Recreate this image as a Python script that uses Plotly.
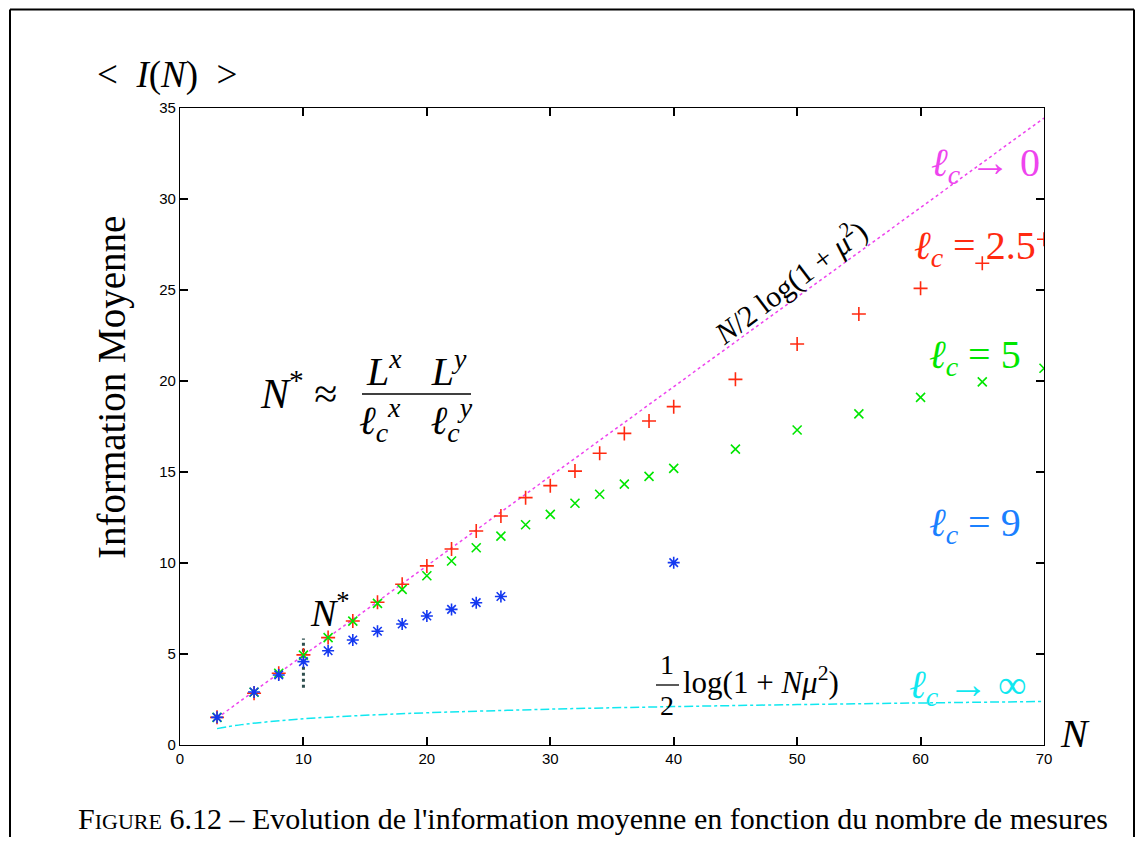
import plotly.graph_objects as go

# ---------------- data ----------------
N_blue = [3, 6, 8, 10, 12, 14, 16, 18, 20, 22, 24, 26, 40]
I_blue = [1.52, 2.91, 3.85, 4.58, 5.18, 5.77, 6.25, 6.65, 7.09, 7.45, 7.82, 8.16, 10.02]

N_green = [3, 6, 8, 10, 12, 14, 16, 18, 20, 22, 24, 26, 28, 30, 32, 34, 36, 38, 40,
           45, 50, 55, 60, 65, 70]
I_green = [1.52, 2.90, 3.94, 4.94, 5.90, 6.81, 7.78, 8.55, 9.30, 10.11, 10.84, 11.48,
           12.10, 12.67, 13.28, 13.78, 14.33, 14.76, 15.20, 16.26, 17.31, 18.19, 19.10,
           19.95, 20.70]

N_red = [3, 6, 8, 10, 12, 14, 16, 18, 20, 22, 24, 26, 28, 30, 32, 34, 36, 38, 40,
         45, 50, 55, 60, 65, 70]
I_red = [1.52, 2.84, 3.94, 4.95, 5.90, 6.81, 7.84, 8.83, 9.84, 10.77, 11.76, 12.58,
         13.59, 14.25, 15.05, 16.03, 17.12, 17.80, 18.59, 20.09, 22.03, 23.68, 25.09,
         26.47, 27.79]

N_upper = [3, 70]
I_upper = [1.48, 34.45]

N_lower = [3, 5, 10, 15, 20, 30, 40, 50, 60, 70]
I_lower = [0.90, 1.12, 1.44, 1.63, 1.77, 1.97, 2.11, 2.22, 2.31, 2.39]

N_star = [10, 10]
I_star = [3.15, 5.85]

x_ticks = [0, 10, 20, 30, 40, 50, 60, 70]
y_ticks = [0, 5, 10, 15, 20, 25, 30, 35]

# ---------------- style ----------------
OFF = 8                              # page body margin shifts the figure by 8 px
W, H = 1143 - 2 * OFF, 845 - 2 * OFF  # figure size (no scrollbars)
L, R, T, B = 180, 1044, 108, 745      # plot area in screen pixels
RED, GREEN, BLUE = "#ff2a10", "#00e600", "#1438f0"
MAG, CYAN, BLUE_TXT = "#ee44ee", "#10e8f0", "#1a80ff"
SERIF = "Liberation Serif, DejaVu Serif, serif"


def px(x, y):
    return (x - L) / (R - L), (B - y) / (B - T)


fig = go.Figure()

fig.add_trace(go.Scatter(x=N_upper, y=I_upper, mode="lines",
                         line=dict(color=MAG, width=1.5, dash="dot"), showlegend=False))
fig.add_trace(go.Scatter(x=N_lower, y=I_lower, mode="lines", line_shape="spline",
                         line=dict(color=CYAN, width=1.5, dash="dashdot"), showlegend=False))
fig.add_trace(go.Scatter(x=N_star, y=I_star, mode="lines",
                         line=dict(color="#2f4f4f", width=3, dash="dot"), showlegend=False))
fig.add_trace(go.Scatter(x=N_red, y=I_red, mode="markers",
                         marker=dict(symbol="cross-thin", size=10, line=dict(color=RED, width=1.6)),
                         showlegend=False))
fig.add_trace(go.Scatter(x=N_green, y=I_green, mode="markers",
                         marker=dict(symbol="x-thin", size=9, line=dict(color=GREEN, width=1.6)),
                         showlegend=False))
fig.add_trace(go.Scatter(x=N_blue, y=I_blue, mode="markers",
                         marker=dict(symbol="asterisk", size=10, line=dict(color=BLUE, width=1.6)),
                         showlegend=False))

ann = []


def add(text, x, y, size, color="black", xanchor="center", angle=0, font=SERIF):
    xp, yp = px(x, y)
    ann.append(dict(text=text, x=xp, y=yp, xref="paper", yref="paper", showarrow=False,
                    xanchor=xanchor, yanchor="middle", textangle=angle,
                    font=dict(family=font, size=size, color=color)))


add("&lt;  <i>I</i>(<i>N</i>)  &gt;", 167, 75, 37)
add("Information Moyenne", 112, 388, 39, angle=-90)
add("<i>N</i><sup>*</sup> ≈", 298, 390, 42)
add("<i>L</i><sup><i>x</i></sup>   <i>L</i><sup><i>y</i></sup>", 416, 368, 40)
add("<i>ℓ</i><sub><i>c</i></sub><sup><i>x</i></sup>   <i>ℓ</i><sub><i>c</i></sub><sup><i>y</i></sup>",
    416, 420, 40)
add("<i>N</i>/2 log(1 + <i>μ</i><sup>2</sup>)", 789, 281, 30, angle=-37)
add("<i>ℓ</i><sub><i>c</i></sub> → 0", 985, 165, 40, MAG)
add("<i>ℓ</i><sub><i>c</i></sub> = 2.5", 975, 248, 40, RED)
add("<i>ℓ</i><sub><i>c</i></sub> = 5", 975, 357, 40, GREEN)
add("<i>ℓ</i><sub><i>c</i></sub> = 9", 975, 525, 40, BLUE_TXT)
add("<i>ℓ</i><sub><i>c</i></sub> → ∞", 968, 687, 40, CYAN)
add("1", 667, 664, 28)
add("2", 667, 705, 28)
add("log(1 + <i>Nμ</i><sup>2</sup>)", 681, 680, 31, xanchor="left")
add("<i>N</i><sup>*</sup>", 330, 610, 38)
add("<i>N</i>", 1075, 733, 40)
add("F<span style='font-size:22px'>IGURE</span> 6.12 – Evolution de l'information moyenne "
    "en fonction du nombre de mesures", 593, 818, 30)

shapes = []


def seg(x0, y0, x1, y1, width=1.5, color="black"):
    a, b = px(x0, y0)
    c, d = px(x1, y1)
    shapes.append(dict(type="line", xref="paper", yref="paper", x0=a, y0=b, x1=c, y1=d,
                       line=dict(color=color, width=width)))


seg(362, 394, 471, 394, 1.6)       # fraction bar N*
seg(656, 685, 679, 685, 1.3)       # fraction bar 1/2
seg(10, 9.5, 1134, 9.5, 2)         # outer frame (kept inside the figure)
seg(10, 9.5, 10, 845, 2)
seg(1134, 9.5, 1134, 845, 2)

axis_common = dict(showgrid=False, zeroline=False, showline=True, linecolor="black",
                   linewidth=1.3, mirror="ticks", ticks="inside", ticklen=8, tickwidth=1.5,
                   tickcolor="black",
                   tickfont=dict(family="Liberation Sans, Arial, sans-serif", size=15,
                                 color="black"))

fig.update_layout(
    width=W, height=H,
    margin=dict(l=L - OFF, r=W - (R - OFF), t=T - OFF, b=H - (B - OFF)),
    paper_bgcolor="white", plot_bgcolor="white",
    xaxis=dict(range=[0, 70], tickvals=x_ticks, **axis_common),
    yaxis=dict(range=[0, 35], tickvals=y_ticks, **axis_common),
    annotations=ann, shapes=shapes, showlegend=False,
)

fig.write_html("out.html")
